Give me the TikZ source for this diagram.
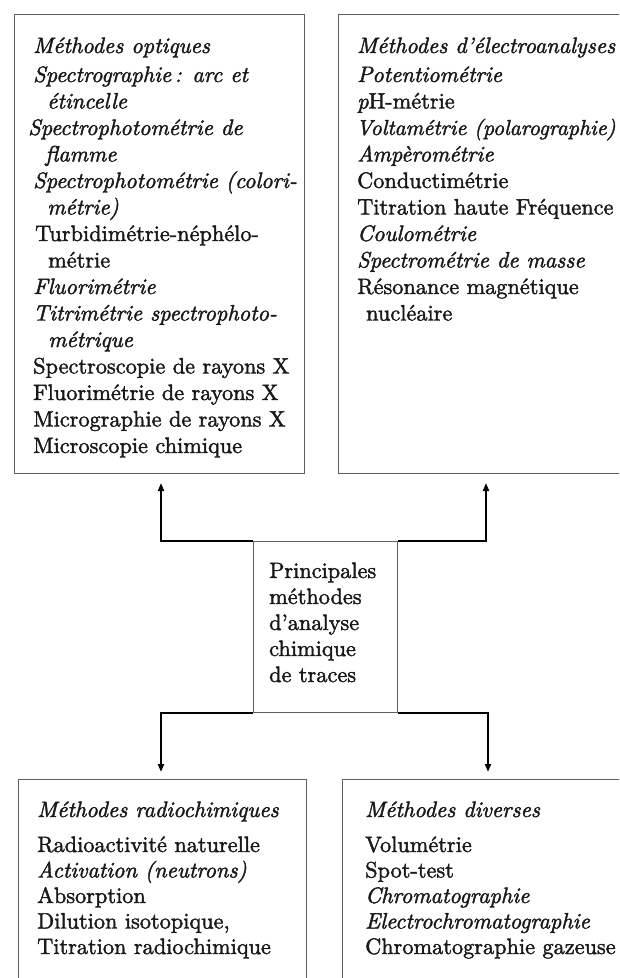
\documentclass[tikz,border=0pt]{standalone}
\usepackage{fontspec}
\setmainfont{lmroman10-regular.otf}[ItalicFont=lmroman10-italic.otf, RawFeature={embolden=1.8}]
\usetikzlibrary{arrows.meta}
\definecolor{boxgray}{RGB}{95,95,95}
\definecolor{ink}{RGB}{25,25,25}
\tikzset{
  box/.style={draw=boxgray, line width=1.4pt, rectangle, inner sep=0pt, anchor=north west},
  ln/.style={anchor=base west, inner sep=0pt, text=ink, font=\fontsize{22.3}{26.5}\selectfont},
  conn/.style={draw=black, line width=1.9pt, -{Triangle[length=8pt,width=6pt]}},
}
\begin{document}
\begin{tikzpicture}[x=1pt,y=-1pt]
\useasboundingbox (0,0) rectangle (619,978);
\clip (0,0) rectangle (619,978);
\fill[white] (0,0) rectangle (619,978);

% boxes
\node[box, minimum width=290pt, minimum height=459pt] (o) at (14,14) {};
\node[box, minimum width=310pt, minimum height=459pt] (e) at (338,14) {};
\node[box, minimum width=144pt, minimum height=171pt] (c) at (253,541) {};
\node[box, minimum width=288pt, minimum height=220pt] (r) at (18,779) {};
\node[box, minimum width=310pt, minimum height=220pt] (d) at (342,779) {};

% box 1: optical methods
\node[ln] (oh) at (33,53) {\itshape Méthodes optiques};
\foreach \x/\t [count=\i] in {
  33/{\itshape Spectrographie\,: arc et},
  47/{\itshape étincelle},
  28/{\itshape Spectrophotométrie de},
  45/{\itshape flamme},
  33/{\itshape Spectrophotométrie (colori-},
  47/{\itshape métrie)},
  35/{Turbidimétrie-néphélo-},
  48/{métrie},
  33/{\itshape Fluorimétrie},
  33/{\itshape Titrimétrie spectrophoto-},
  48/{\itshape métrique},
  33/{Spectroscopie de rayons X},
  33/{Fluorimétrie de rayons X},
  33/{Micrographie de rayons X},
  33/{Microscopie chimique}}
  \node[ln] (o\i) at ({\x},{82+26.5*(\i-1)}) {\t};

% box 2: electroanalysis
\node[ln] (eh) at (357,53) {\itshape Méthodes d’électroanalyses};
\foreach \x/\t [count=\i] in {
  357/{\itshape Potentiométrie},
  357/{\textit{p}H-métrie},
  356/{\fontsize{21.7}{26.5}\selectfont\itshape Voltamétrie (polarographie)},
  357/{\itshape Ampèrométrie},
  357/{Conductimétrie},
  357/{Titration haute Fréquence},
  357/{\itshape Coulométrie},
  357/{\itshape Spectrométrie de masse},
  357/{Résonance magnétique},
  366/{nucléaire}}
  \node[ln] (e\i) at ({\x},{82+26.5*(\i-1)}) {\t};

% centre
\foreach \t [count=\i] in {Principales, méthodes, d’analyse, chimique, de traces}
  \node[ln] (c\i) at (269,{578+26*(\i-1)}) {\t};

% box 3: radiochemical
\node[ln] (rh) at (37,817) {\itshape Méthodes radiochimiques};
\foreach \t [count=\i] in {
  {Radioactivité naturelle},
  {\itshape Activation (neutrons)},
  {Absorption},
  {Dilution isotopique,},
  {Titration radiochimique}}
  \node[ln] (r\i) at (37,{852+25.5*(\i-1)}) {\t};

% box 4: miscellaneous
\node[ln] (dh) at (365,817) {\itshape Méthodes diverses};
\foreach \t [count=\i] in {
  {Volumétrie},
  {Spot-test},
  {\itshape Chromatographie},
  {\itshape Electrochromatographie},
  {Chromatographie gazeuse}}
  \node[ln] (d\i) at (365,{852+25.5*(\i-1)}) {\t};

% connectors
\coordinate (ou) at (161,483);
\coordinate (eu) at (486,483);
\coordinate (rd) at (161,772);
\coordinate (dd) at (488,772);
\draw[conn] (c.north west) -| (ou);
\draw[conn] (c.north east) -| (eu);
\draw[conn] (c.south west) -| (rd);
\draw[conn] (c.south east) -| (dd);
\end{tikzpicture}
\end{document}
